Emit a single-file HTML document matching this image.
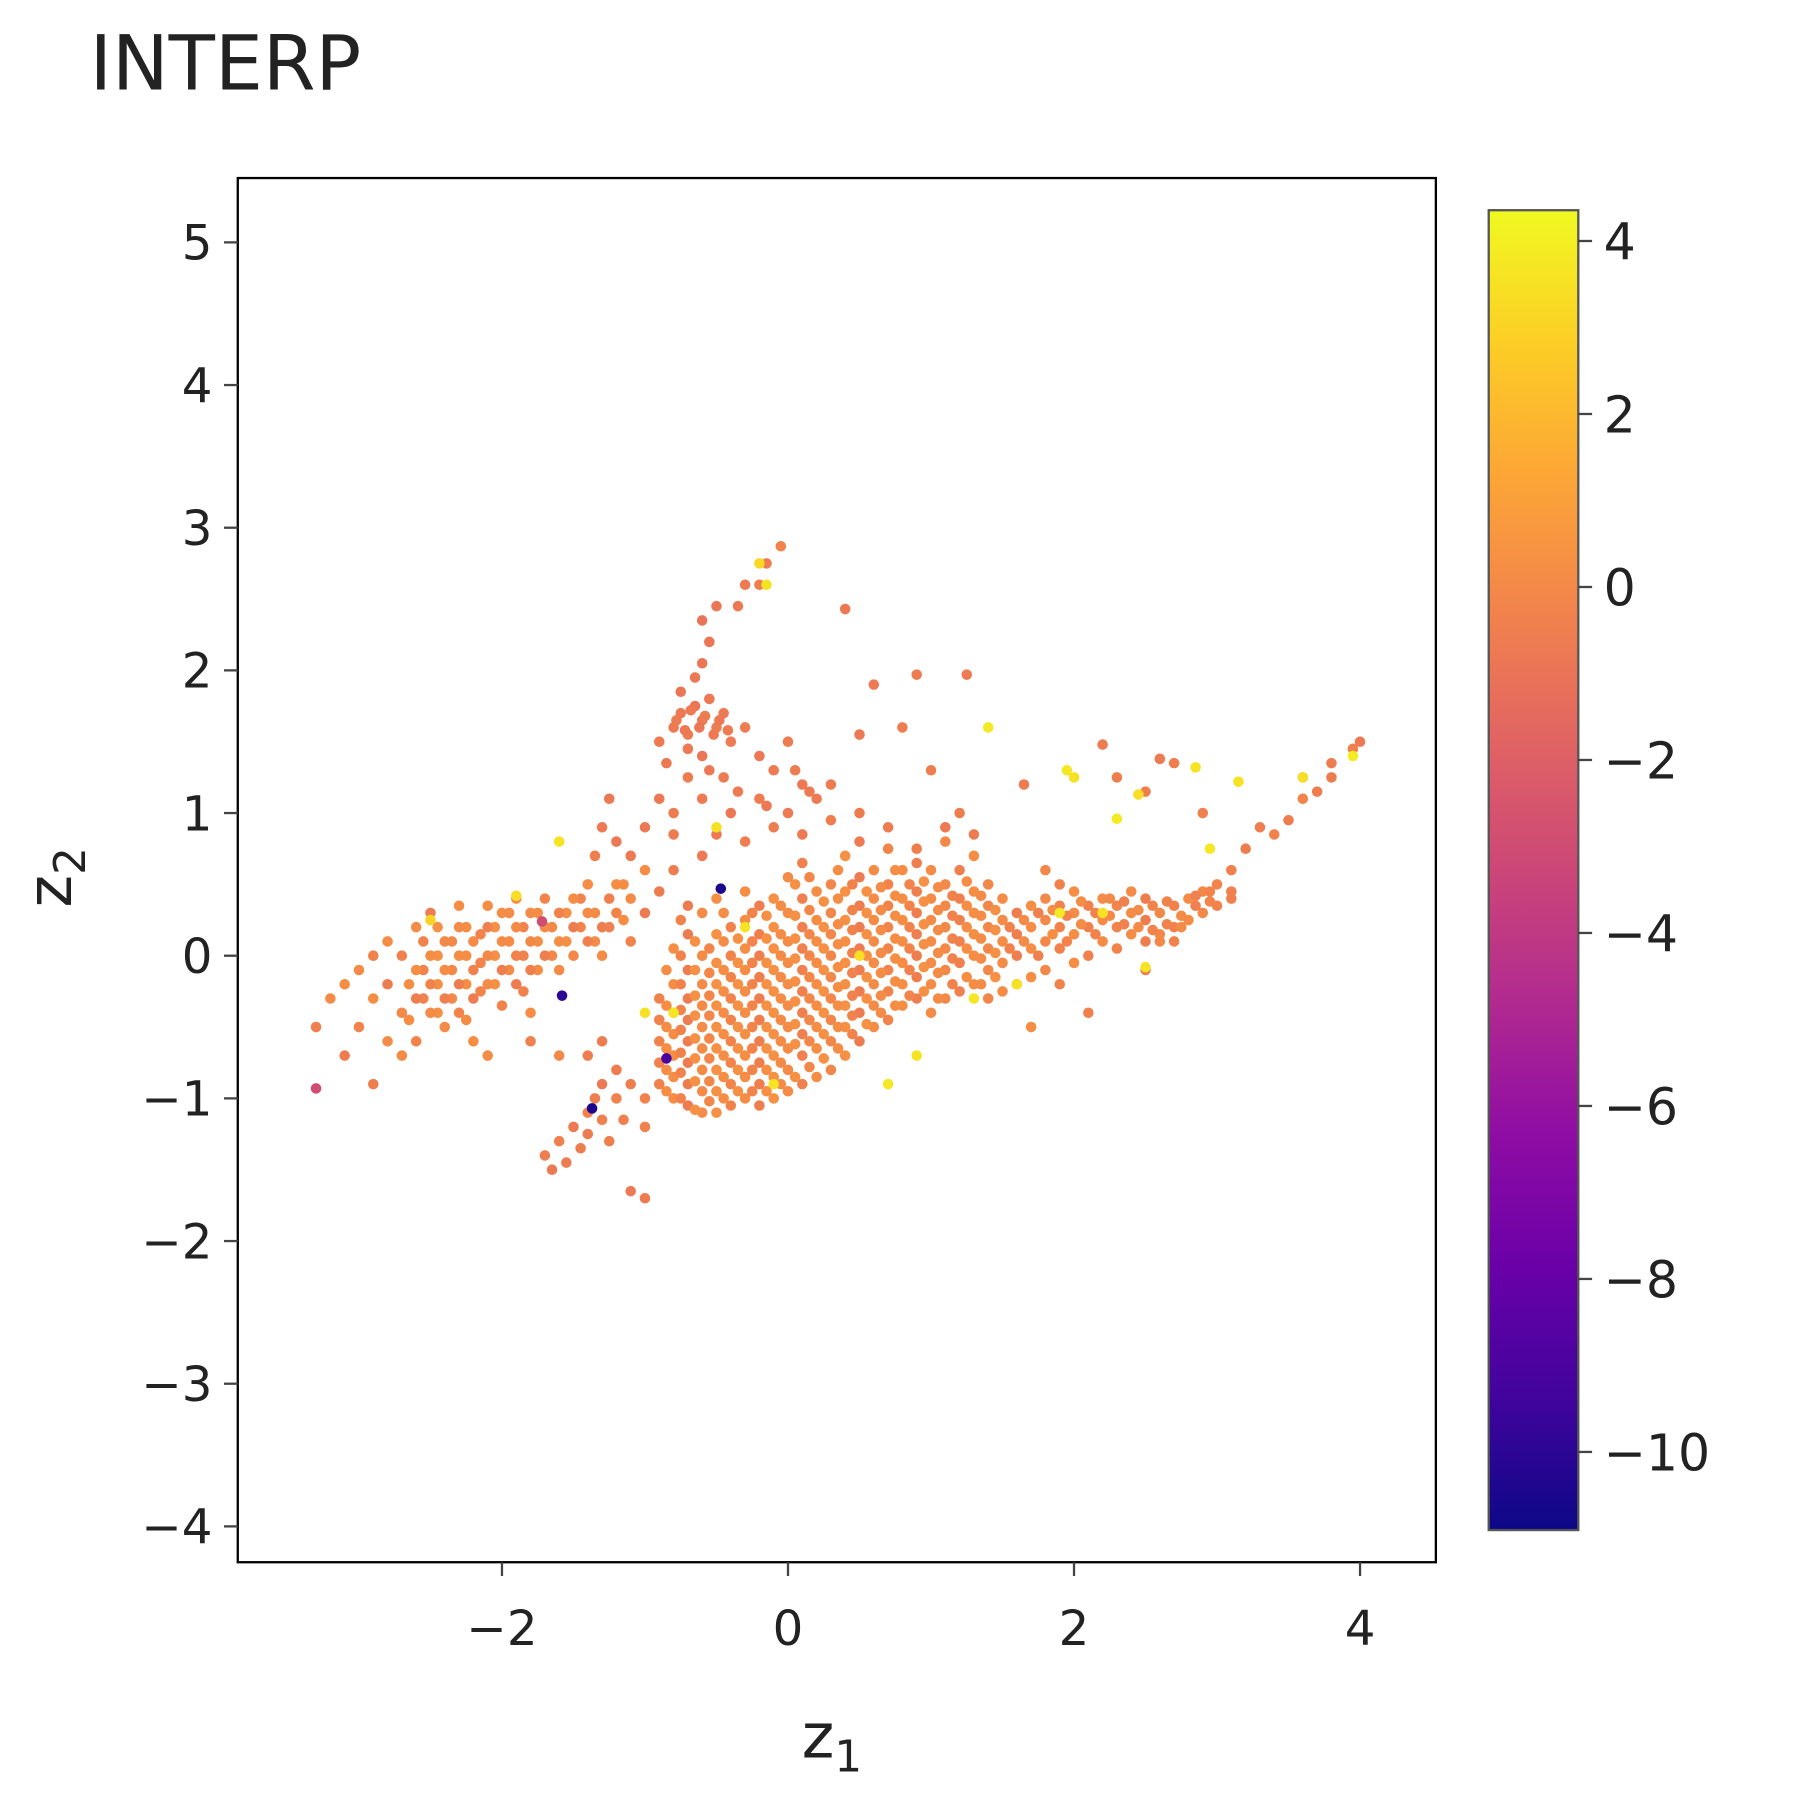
<!DOCTYPE html>
<html><head><meta charset="utf-8"><style>
html,body{margin:0;padding:0;background:#fff;}
svg{display:block;font-family:"DejaVu Sans","Liberation Sans",sans-serif;}
</style></head><body>
<svg id="chart" width="1800" height="1800" viewBox="0 0 1567 1567" xmlns="http://www.w3.org/2000/svg">
<defs>
<linearGradient id="plasma" x1="0" y1="1" x2="0" y2="0">
<stop offset="0" stop-color="#0d0887"/><stop offset="0.1" stop-color="#41049d"/><stop offset="0.2" stop-color="#6a00a8"/><stop offset="0.3" stop-color="#8f0da4"/><stop offset="0.4" stop-color="#b12a90"/><stop offset="0.5" stop-color="#cc4778"/><stop offset="0.6" stop-color="#e16462"/><stop offset="0.7" stop-color="#f2844b"/><stop offset="0.8" stop-color="#fca636"/><stop offset="0.9" stop-color="#fcce25"/><stop offset="1" stop-color="#f0f921"/>
</linearGradient>
</defs>
<rect width="1567" height="1567" fill="#fff"/>
<text x="78" y="78" font-size="66" fill="#222">INTERP</text>
<g id="points"></g>
<rect x="207" y="155" width="1043" height="1205" fill="none" stroke="#000" stroke-width="2"/>
<g id="xticks"></g>
<g id="yticks"></g>
<text x="698" y="1530" font-size="54" fill="#222">z<tspan font-size="38" dy="12">1</tspan></text>
<text transform="translate(62,790) rotate(-90)" font-size="54" fill="#222">z<tspan font-size="38" dy="12">2</tspan></text>
<rect x="1296" y="183" width="78" height="1149" fill="url(#plasma)" stroke="#555" stroke-width="2"/>
<g id="cticks"></g>
</svg>
<script>
const xTicks=[-2,0,2,4];
const yTicks=[-4,-3,-2,-1,0,1,2,3,4,5];
const cTicks=[-10,-8,-6,-4,-2,0,2,4];
const colX=[-0.9,-0.8,-0.7,-0.6,-0.5,-0.4,-0.3,-0.2,-0.1,0.0,0.1,0.2,0.3,0.4,0.5,0.6,0.7,0.8,0.9,1.0,1.1,1.2,1.3,1.4,1.5,1.6,1.7,1.8,1.9,2.0,2.1,2.2,2.3,2.4,2.5,2.6,2.7,2.8,2.9,3.0,3.1,3.2,3.3,3.4,3.5,3.6,3.7,3.8,3.95,4.0];
const colY=[[-0.9,-0.75,-0.6,-0.45,-0.3],[-1.0,-0.85,-0.7,-0.55,-0.4,-0.2,0.05],[-1.05,-0.9,-0.75,-0.6,-0.45,-0.3,-0.1,0.15,0.35],[-1.1,-0.95,-0.8,-0.65,-0.5,-0.35,-0.2,0.0,0.3],[-1.1,-0.95,-0.8,-0.65,-0.5,-0.35,-0.2,-0.05,0.15,0.4],[-1.05,-0.9,-0.75,-0.6,-0.45,-0.3,-0.15,0.0,0.2],[-1.0,-0.85,-0.7,-0.55,-0.4,-0.25,-0.1,0.05,0.25,0.45],[-1.05,-0.9,-0.75,-0.6,-0.45,-0.3,-0.15,0.0,0.15,0.35],[-1.0,-0.85,-0.7,-0.55,-0.4,-0.25,-0.1,0.05,0.2,0.4],[-0.95,-0.8,-0.65,-0.5,-0.35,-0.2,-0.05,0.1,0.3,0.55],[-0.9,-0.7,-0.55,-0.4,-0.25,-0.1,0.05,0.2,0.4,0.65],[-0.85,-0.65,-0.5,-0.35,-0.2,-0.05,0.1,0.25,0.45],[-0.8,-0.6,-0.45,-0.3,-0.15,0.0,0.15,0.3,0.5],[-0.7,-0.5,-0.35,-0.2,-0.05,0.1,0.25,0.45,0.7],[-0.6,-0.4,-0.25,-0.1,0.05,0.2,0.35,0.55],[-0.5,-0.35,-0.2,-0.05,0.1,0.25,0.4,0.6],[-0.45,-0.25,-0.1,0.05,0.2,0.35,0.5,0.75],[-0.35,-0.2,-0.05,0.1,0.25,0.4,0.6],[-0.3,-0.15,0.0,0.15,0.3,0.45,0.65],[-0.4,-0.2,-0.05,0.1,0.25,0.4,0.6],[-0.3,-0.1,0.05,0.2,0.35,0.5,0.8],[-0.25,-0.05,0.1,0.25,0.4,0.6],[-0.2,0.0,0.15,0.3,0.45,0.7],[-0.3,-0.1,0.05,0.2,0.35,0.5],[-0.25,-0.05,0.1,0.25,0.4],[-0.2,0.0,0.15,0.3],[-0.15,0.05,0.2,0.35,-0.5],[-0.1,0.1,0.25,0.4,0.6],[-0.2,0.05,0.2,0.35,0.5],[-0.05,0.15,0.3,0.45],[0.0,0.2,0.35,-0.4],[0.1,0.25,0.4],[0.05,0.2,0.35],[0.15,0.3,0.45],[0.1,0.25,0.4,-0.1],[0.15,0.3,0.1],[0.2,0.35,0.1],[0.25,0.4],[0.3,0.45],[0.35,0.5],[0.4,0.6,0.45],[0.75],[0.9],[0.85],[0.95],[1.1,1.25],[1.15],[1.25,1.35],[1.45],[1.5]];
const colC=[-0.3,0.2,-0.6,0.1,0.3,-0.2,0.2,-0.5,0.3,0.1,-0.4,0.2,-0.1,0.3,-0.6,0.1,-0.2,0.2,-0.5,0.1,0.0,-0.4,0.2,-0.1,0.1,-0.5,0.2,0.0,-0.3,0.2,-0.4,0.1,-0.2,0.1,-0.5,0.0,-0.3,0.1,0.0,-0.2,-0.4,-0.6,-0.5,-0.3,-0.6,-0.2,-0.5,-0.6,-0.4,-0.7];
const colX2=[-0.85,-0.75,-0.65,-0.55,-0.45,-0.35,-0.25,-0.15,-0.05,0.05,0.15,0.25,0.35,0.45,0.55,0.65,0.75,0.85,0.95,1.05,1.15,1.25,1.35,1.45,1.55,1.65,1.75,1.85,1.95,2.05,2.15,2.25,2.35,2.45,2.55,2.65,2.75,2.85,2.95,-2.65,-2.55,-2.45,-2.35,-2.25,-2.15,-2.05,-1.95,-1.85,-1.75,-1.65,-1.55,-1.45,-1.35,-1.25,-1.15];
const colY2=[[-0.95,-0.8,-0.65,-0.5,-0.35,-0.1],[-1.0,-0.82,-0.68,-0.52,-0.38,-0.2,0.0,0.25],[-1.08,-0.88,-0.72,-0.58,-0.42,-0.28,-0.1,0.1],[-1.02,-0.88,-0.72,-0.58,-0.42,-0.28,-0.12,0.05],[-1.0,-0.85,-0.7,-0.55,-0.4,-0.25,-0.1,0.1,0.3],[-0.95,-0.8,-0.65,-0.5,-0.35,-0.2,-0.05,0.12],[-0.95,-0.8,-0.65,-0.5,-0.35,-0.2,-0.05,0.1,0.3],[-0.95,-0.8,-0.65,-0.5,-0.35,-0.2,-0.05,0.12,0.28],[-0.9,-0.75,-0.6,-0.45,-0.3,-0.15,0.0,0.15,0.35],[-0.85,-0.62,-0.48,-0.32,-0.18,-0.02,0.12,0.28,0.5],[-0.78,-0.6,-0.45,-0.3,-0.15,0.0,0.15,0.32,0.55],[-0.72,-0.55,-0.4,-0.25,-0.1,0.05,0.2,0.38],[-0.65,-0.5,-0.35,-0.22,-0.08,0.08,0.22,0.4,0.6],[-0.55,-0.42,-0.28,-0.12,0.02,0.18,0.32,0.5],[-0.48,-0.3,-0.15,0.0,0.15,0.3,0.45],[-0.4,-0.28,-0.12,0.02,0.18,0.32,0.48],[-0.35,-0.18,-0.02,0.12,0.28,0.42,0.6],[-0.28,-0.1,0.05,0.2,0.35,0.5],[-0.25,-0.08,0.08,0.22,0.38,0.52],[-0.3,-0.12,0.02,0.18,0.32,0.48],[-0.2,-0.02,0.12,0.28,0.42],[-0.15,0.05,0.2,0.35,0.52],[-0.2,-0.02,0.12,0.28,0.42],[-0.15,0.02,0.18,0.32],[0.05,0.2],[0.1,0.25],[0.0,0.3],[0.15,0.32],[0.1,0.28],[0.22,0.38],[0.15,0.3],[0.28,0.4],[0.22,0.38],[0.2,0.32],[0.18,0.35],[0.22,0.38],[0.28,0.2],[0.35,0.42],[0.38,0.45],[-0.2,-0.45],[-0.1,-0.3,0.1],[0.0,-0.2,-0.4,0.2],[-0.1,0.1,-0.3],[0.0,-0.2,0.2,-0.45],[-0.05,0.15,-0.25],[0.0,0.2,-0.2],[0.1,-0.1,0.3],[0.0,0.2,-0.25],[0.1,0.3,-0.1],[0.2,0.0],[0.1,0.3],[0.2,0.4],[0.3,0.1],[0.4,0.2],[0.25,0.5]];
const colC2=[0.2,-0.3,0.3,-0.1,0.2,0.3,-0.2,0.3,0.1,0.3,-0.1,0.3,0.2,-0.3,0.3,0.1,0.2,-0.2,0.3,0.1,-0.3,0.2,0.1,0.3,-0.3,0.1,-0.4,0.2,-0.2,0.1,-0.3,0.0,-0.4,0.1,-0.2,-0.3,0.1,-0.4,-0.2,0.2,-0.3,0.3,0.0,0.2,-0.2,0.3,0.1,-0.3,0.2,0.0,0.3,-0.2,0.1,-0.4,0.2];
const ptX=[-3.3,-3.2,-3.1,-3.1,-3.0,-3.0,-2.9,-2.9,-2.9,-2.8,-2.8,-2.8,-2.7,-2.7,-2.7,-2.6,-2.6,-2.6,-2.6,-2.5,-2.5,-2.5,-2.5,-2.4,-2.4,-2.4,-2.4,-2.3,-2.3,-2.3,-2.3,-2.3,-2.2,-2.2,-2.2,-2.2,-2.1,-2.1,-2.1,-2.1,-2.0,-2.0,-2.0,-2.0,-1.9,-1.9,-1.9,-1.9,-1.8,-1.8,-1.8,-1.8,-1.7,-1.7,-1.7,-1.6,-1.6,-1.6,-1.5,-1.5,-1.5,-1.4,-1.4,-1.4,-1.3,-1.3,-1.2,-1.2,-1.1,-1.1,-1.0,-1.0,-1.6,-1.8,-2.1,-1.3,-1.35,-1.25,
-1.7,-1.65,-1.6,-1.55,-1.5,-1.45,-1.4,-1.4,-1.35,-1.3,-1.3,-1.25,-1.2,-1.2,-1.15,-1.1,-1.1,-1.0,-1.0,-1.0,-1.4,-1.3,
-0.8,-0.75,-0.7,-0.65,-0.6,-0.55,-0.5,-0.45,-0.75,-0.65,-0.6,-0.55,-0.6,-0.5,-0.35,-0.3,-0.2,-0.15,-0.05,-0.9,-0.85,-0.7,-0.6,-0.4,-0.3,-0.2,-0.1,0.0,0.1,0.2,0.3,-0.9,-0.8,-0.6,-0.4,-0.2,0.0,-1.0,-0.8,-0.5,-0.3,-0.1,0.1,0.3,0.5,0.5,0.7,0.9,1.1,1.3,0.4,0.6,0.9,1.25,0.5,0.8,1.0,2.2,2.6,2.7,1.65,2.3,2.9,2.5,1.2,-0.8,-0.6,-0.9,-1.1,-1.2,
-0.78,-0.72,-0.68,-0.62,-0.58,-0.52,-0.48,-0.42,-0.7,-0.55,-0.45,-0.35,-0.15,0.05,0.15,
-1.6,-0.5,1.4,1.95,2.0,2.45,2.85,2.3,3.15,3.6,3.95,-0.1,1.3,1.6,2.5,1.9,-2.5,-1.9,-0.2,-0.15,0.7,-1.0,0.9,2.95,2.2,-0.3,0.5,-0.8,
-0.47,-1.37,-1.58,-0.85,-3.3,-1.72];
const ptY=[-0.5,-0.3,-0.7,-0.2,-0.5,-0.1,-0.9,-0.3,0.0,-0.6,-0.2,0.1,-0.4,0.0,-0.7,-0.1,-0.3,0.2,-0.6,0.0,-0.2,-0.4,0.3,-0.1,0.1,-0.3,-0.5,0.0,-0.2,0.2,-0.4,0.35,-0.1,0.1,-0.3,-0.6,0.0,0.2,-0.2,0.35,-0.1,0.1,-0.35,0.3,0.0,0.2,-0.2,0.4,0.1,-0.1,0.3,-0.4,0.0,0.2,0.4,0.1,0.3,-0.1,0.2,0.4,0.0,0.1,0.3,0.5,0.2,0.0,0.3,0.5,0.1,0.4,0.3,0.6,-0.7,-0.6,-0.7,0.9,0.7,1.1,
-1.4,-1.5,-1.3,-1.45,-1.2,-1.35,-1.1,-1.25,-1.0,-1.15,-0.9,-1.3,-1.0,-0.8,-1.15,-0.9,-1.65,-1.7,-1.2,-1.0,-0.7,-0.6,
1.6,1.7,1.55,1.75,1.65,1.8,1.6,1.7,1.85,1.95,2.05,2.2,2.35,2.45,2.45,2.6,2.6,2.75,2.87,1.5,1.35,1.25,1.4,1.5,1.6,1.4,1.3,1.5,1.2,1.1,1.2,1.1,1.0,1.1,1.0,1.1,1.0,0.9,0.85,0.85,0.8,0.9,0.85,0.95,1.0,0.8,0.9,0.75,0.9,0.85,2.43,1.9,1.97,1.97,1.55,1.6,1.3,1.48,1.38,1.35,1.2,1.25,1.0,1.15,1.0,0.6,0.7,0.45,0.7,0.8,
1.65,1.58,1.72,1.6,1.68,1.55,1.65,1.58,1.45,1.3,1.25,1.15,1.05,1.3,1.15,
0.8,0.9,1.6,1.3,1.25,1.13,1.32,0.96,1.22,1.25,1.4,-0.9,-0.3,-0.2,-0.08,0.3,0.25,0.42,2.75,2.6,-0.9,-0.4,-0.7,0.75,0.3,0.2,0.0,-0.4,
0.47,-1.07,-0.28,-0.72,-0.93,0.24];
const ptC=[-0.4,0.1,-0.6,0.2,-0.2,0.1,-0.5,0.2,-0.3,0.1,-0.6,0.2,0.0,-0.4,0.1,0.2,-0.5,0.1,-0.2,0.2,-0.3,0.1,-0.6,0.2,0.0,-0.4,0.1,0.2,-0.5,0.1,-0.2,0.2,-0.3,0.1,-0.6,0.2,0.0,-0.4,0.1,0.2,-0.5,0.1,-0.2,0.2,-0.3,0.1,-0.6,0.2,0.0,-0.4,0.1,0.2,-0.5,0.1,-0.2,0.2,-0.3,0.1,-0.6,0.2,0.0,-0.4,0.1,0.2,-0.5,0.1,-0.2,0.2,-0.3,0.1,-0.6,0.2,0.0,-0.4,0.1,-0.7,-0.5,-0.8,
-0.5,-0.8,-0.4,-0.6,-0.7,-0.5,-0.3,-0.6,-0.5,-0.4,-0.7,-0.5,-0.3,-0.6,-0.4,-0.5,-0.7,-0.6,-0.4,-0.3,-0.5,-0.6,
-0.7,-0.8,-0.6,-0.9,-0.7,-0.8,-0.6,-0.7,-0.9,-0.8,-0.9,-0.9,-1.0,-0.9,-0.8,-0.7,-0.5,-0.6,-0.3,-0.7,-0.8,-0.6,-0.9,-0.7,-0.6,-0.8,-0.7,-0.6,-0.8,-0.7,-0.6,-0.8,-0.6,-0.7,-0.8,-0.6,-0.7,-0.8,-0.6,-0.7,-0.5,-0.6,-0.7,-0.5,-0.6,-0.7,-0.6,-0.5,-0.7,-0.6,-0.8,-0.7,-0.6,-0.7,-0.8,-0.6,-0.5,-0.6,-0.7,-0.5,-0.6,-0.5,-0.4,-0.5,-0.5,-0.6,-0.7,-0.6,-0.7,-0.8,
-0.6,-0.8,-0.7,-0.9,-0.6,-0.7,-0.8,-0.6,-0.7,-0.8,-0.6,-0.7,-0.8,-0.6,-0.7,
3.6,3.5,3.8,3.7,3.5,3.4,3.6,3.8,3.5,3.4,3.9,3.6,3.7,3.5,3.6,3.8,3.0,3.4,3.2,3.6,3.7,3.5,3.6,3.8,3.5,3.6,3.4,3.7,
-10.5,-10.5,-10.0,-9.0,-3.0,-3.0];

const X0=686, XS=124.5, Y0=832, YS=124.2;
function sx(v){return X0+v*XS;}
function sy(v){return Y0-v*YS;}
const C0=511, CS=75.3, CBTOP=183, CBBOT=1332;
const CMAX=(C0-CBTOP)/CS, CMIN=(C0-CBBOT)/CS;
function scy(v){return C0-v*CS;}
const stops=["#0d0887","#41049d","#6a00a8","#8f0da4","#b12a90","#cc4778","#e16462","#f2844b","#fca636","#fcce25","#f0f921"];
function hex(h){return [1,3,5].map(i=>parseInt(h.substr(i,2),16));}
function plasma(v){let t=(v-CMIN)/(CMAX-CMIN);t=Math.max(0,Math.min(1,t));const f=t*10,i=Math.min(9,Math.floor(f)),r=f-i;const a=hex(stops[i]),b=hex(stops[i+1]);return "rgb("+a.map((c,k)=>Math.round(c+(b[k]-c)*r)).join(",")+")";}
const NS="http://www.w3.org/2000/svg";
function mk(tag,attrs,parent){const e=document.createElementNS(NS,tag);for(const k in attrs)e.setAttribute(k,attrs[k]);parent.appendChild(e);return e;}
const gp=document.getElementById("points");
function dot(x,y,c){
  const e=mk("circle",{cx:sx(x),cy:sy(y),r:4.6,fill:plasma(c)},gp);
  
  
}
colX.forEach((x,i)=>colY[i].forEach(y=>dot(x,y,colC[i])));
colX2.forEach((x,i)=>colY2[i].forEach(y=>dot(x,y,colC2[i])));
ptX.forEach((x,i)=>dot(x,ptY[i],ptC[i]));
function lab(v){return v<0?"\u2212"+Math.abs(v):String(v);}
const gx=document.getElementById("xticks");
xTicks.forEach(v=>{
  const l=mk("line",{x1:sx(v),x2:sx(v),y1:1360,y2:1372,stroke:"#444","stroke-width":2},gx);
  
  
  const t=mk("text",{x:sx(v),y:1432,"font-size":42,fill:"#222","text-anchor":"middle"},gx);
  t.textContent=lab(v);
  
  
});
const gy=document.getElementById("yticks");
yTicks.forEach(v=>{
  const l=mk("line",{x1:195,x2:207,y1:sy(v),y2:sy(v),stroke:"#444","stroke-width":2},gy);
  
  
  const t=mk("text",{x:185,y:sy(v)+15,"font-size":42,fill:"#222","text-anchor":"end"},gy);
  t.textContent=lab(v);
  
  
});
const gc=document.getElementById("cticks");
cTicks.forEach(v=>{
  const l=mk("line",{x1:1374,x2:1386,y1:scy(v),y2:scy(v),stroke:"#444","stroke-width":2},gc);
  
  
  const t=mk("text",{x:1396,y:scy(v)+16,"font-size":44,fill:"#222"},gc);
  t.textContent=lab(v);
  
  
});
</script>
</body></html>
